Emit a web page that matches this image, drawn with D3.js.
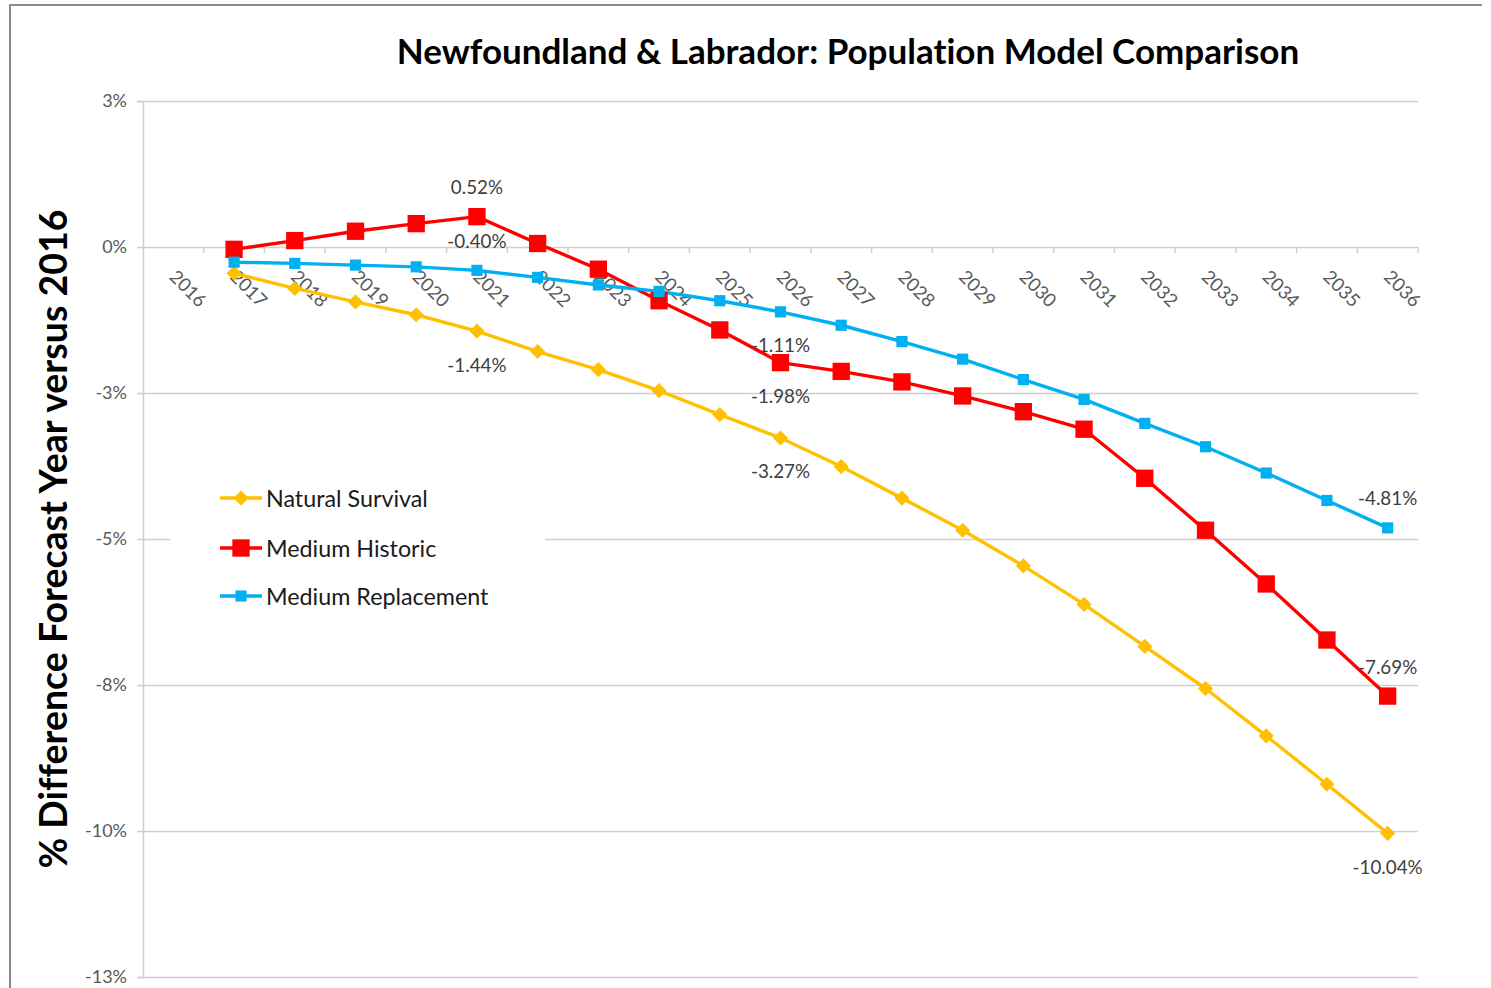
<!DOCTYPE html>
<html>
<head>
<meta charset="utf-8">
<script src="https://cdn.jsdelivr.net/npm/d3@7"></script>
<style>
  body { margin: 0; background: #fff; }
  svg text { font-family: Lato, "Open Sans", sans-serif; font-variant-ligatures: none; }
</style>
</head>
<body>
<div id="chart"></div>
<script>
// categories (2016 is the base year, it has no value)
var years = ["2016", "2017", "2018", "2019", "2020", "2021", "2022", "2023", "2024", "2025", "2026",
             "2027", "2028", "2029", "2030", "2031", "2032", "2033", "2034", "2035", "2036"];

// % difference of forecast year versus 2016
var naturalSurvival = [null, -0.45, -0.71, -0.94, -1.16, -1.44, -1.79, -2.10, -2.46, -2.87, -3.27,
                       -3.76, -4.30, -4.85, -5.46, -6.12, -6.84, -7.56, -8.37, -9.20, -10.04];
var mediumHistoric = [null, -0.04, 0.11, 0.27, 0.40, 0.52, 0.06, -0.38, -0.92, -1.42, -1.98,
                      -2.13, -2.31, -2.55, -2.82, -3.12, -3.96, -4.85, -5.77, -6.73, -7.69];
var mediumReplacement = [null, -0.26, -0.28, -0.31, -0.34, -0.40, -0.52, -0.65, -0.76, -0.92, -1.11,
                         -1.34, -1.62, -1.92, -2.27, -2.61, -3.02, -3.42, -3.87, -4.34, -4.81];

var yTicks = [2.5, 0, -2.5, -5, -7.5, -10, -12.5];

// which points carry a data label
var labelYears = ["2021", "2026", "2036"];

var series = [
    { name: "Natural Survival", values: naturalSurvival, color: "#FFC000", marker: "diamond", labelPos: ["below", "below", "below"] },
    { name: "Medium Historic", values: mediumHistoric, color: "#FF0000", marker: "bigsquare", labelPos: ["above", "below", "above"] },
    { name: "Medium Replacement", values: mediumReplacement, color: "#00B0F0", marker: "square", labelPos: ["above", "below", "above"] }
];

var margin = { top: 101, right: 73, bottom: 11, left: 143 },
    width = 1491 - margin.left - margin.right,
    height = 988 - margin.top - margin.bottom;

var root = d3.select("#chart")
    .append("svg")
    .attr("width", 1491)
    .attr("height", 988);

// outer chart border (only top and left show in the picture)
root.append("path")
    .attr("d", "M10,988 L10,5 L1482,5")
    .attr("fill", "none")
    .attr("stroke", "#8c8c8c")
    .attr("stroke-width", 2);

var svg = root.append("g")
    .attr("transform", "translate(" + margin.left + "," + margin.top + ")");

var x = d3.scaleBand()
    .domain(years)
    .range([0, width]);

var y = d3.scaleLinear()
    .domain([-12.5, 2.5])
    .range([height, 0]);

// excel style rounding of the axis labels (2.5 -> 3, -7.5 -> -8)
var pctLabel = function(v) {
    var r = Math.round(Math.abs(v));
    return (v < 0 && r != 0 ? "-" : "") + r + "%";
};
// plain hyphen, not the unicode minus d3.format gives
var dataLabel = function(v) {
    return (v < 0 ? "-" : "") + Math.abs(v).toFixed(2) + "%";
};

var cx = function(i) { return x(years[i]) + x.bandwidth() / 2; };

// gridlines
var grid = svg.append("g")
    .call(d3.axisLeft(y).tickValues(yTicks).tickSize(-width).tickFormat(""));
grid.select(".domain").remove();
grid.selectAll("line").attr("stroke", "#cfcfcf").attr("stroke-width", 1.5);

// y axis
var yaxis = svg.append("g")
    .call(d3.axisLeft(y).tickValues(yTicks).tickSize(6).tickPadding(10).tickFormat(pctLabel));
yaxis.select(".domain").attr("stroke", "#cfcfcf").attr("stroke-width", 1.5);
yaxis.selectAll("line").attr("stroke", "#cfcfcf").attr("stroke-width", 1.5);
yaxis.selectAll("text")
    .attr("font-size", 18)
    .attr("fill", "#595959");

// x axis sits on 0%, ticks between the categories
var y0 = y(0);
svg.append("g")
    .selectAll("line")
    .data(years.slice(1).concat(["end"]))
    .enter()
    .append("line")
    .attr("x1", function(d) { return d == "end" ? width : x(d); })
    .attr("x2", function(d) { return d == "end" ? width : x(d); })
    .attr("y1", y0)
    .attr("y2", y0 + 6)
    .attr("stroke", "#cfcfcf")
    .attr("stroke-width", 1.5);

svg.append("g")
    .selectAll("text")
    .data(years)
    .enter()
    .append("text")
    .attr("transform", function(d, i) {
        return "translate(" + (cx(i) - 5) + "," + (y0 + 31) + ") rotate(45)";
    })
    .attr("text-anchor", "start")
    .attr("font-size", 18.5)
    .attr("fill", "#595959")
    .text(function(d) { return d; });

// markers
var markerPath = function(kind) {
    if (kind == "diamond") return d3.symbol(d3.symbolSquare, 115)();
    if (kind == "bigsquare") return d3.symbol(d3.symbolSquare, 300)();
    return d3.symbol(d3.symbolSquare, 125)();
};

var line = d3.line()
    .defined(function(d) { return d != null; })
    .x(function(d, i) { return cx(i); })
    .y(function(d) { return y(d); });

series.forEach(function(s) {
    svg.append("path")
        .datum(s.values)
        .attr("fill", "none")
        .attr("stroke", s.color)
        .attr("stroke-width", 3.4)
        .attr("stroke-linejoin", "round")
        .attr("d", line);
});

series.forEach(function(s) {
    svg.append("g")
        .selectAll("path")
        .data(s.values.map(function(v, i) { return { v: v, i: i }; }).filter(function(d) { return d.v != null; }))
        .enter()
        .append("path")
        .attr("d", markerPath(s.marker))
        .attr("fill", s.color)
        .attr("transform", function(d) {
            return "translate(" + cx(d.i) + "," + y(d.v) + ")" + (s.marker == "diamond" ? " rotate(45)" : "");
        });
});

// data labels
series.forEach(function(s) {
    labelYears.forEach(function(yr, k) {
        var i = years.indexOf(yr);
        var v = s.values[i];
        svg.append("text")
            .attr("x", cx(i))
            .attr("y", y(v) + (s.labelPos[k] == "above" ? -30 : 33))
            .attr("text-anchor", "middle")
            .attr("dominant-baseline", "central")
            .attr("font-size", 18.8)
            .attr("fill", "#404040")
            .text(dataLabel(v));
    });
});

// legend, white box over the gridline
var legend = root.append("g");
legend.append("rect")
    .attr("x", 170)
    .attr("y", 472)
    .attr("width", 375)
    .attr("height", 150)
    .attr("fill", "#fff");

var legendRows = legend.selectAll("g.item")
    .data(series)
    .enter()
    .append("g")
    .attr("class", "item")
    .attr("transform", function(d, i) { return "translate(220," + [498, 548, 596][i] + ")"; });

legendRows.append("line")
    .attr("x1", 0)
    .attr("x2", 42)
    .attr("stroke", function(d) { return d.color; })
    .attr("stroke-width", 3.4);

legendRows.append("path")
    .attr("d", function(d) { return markerPath(d.marker); })
    .attr("fill", function(d) { return d.color; })
    .attr("transform", function(d) { return "translate(21,0)" + (d.marker == "diamond" ? " rotate(45)" : ""); });

legendRows.append("text")
    .attr("x", 46)
    .attr("dominant-baseline", "central")
    .attr("font-size", 23.3)
    .attr("fill", "#1a1a1a")
    .text(function(d) { return d.name; });

// title
root.append("text")
    .attr("x", 848)
    .attr("y", 64)
    .attr("text-anchor", "middle")
    .attr("font-size", 35)
    .attr("font-weight", "bold")
    .attr("fill", "#000")
    .text("Newfoundland & Labrador: Population Model Comparison");

// y axis title
root.append("text")
    .attr("transform", "translate(67,539) rotate(-90)")
    .attr("text-anchor", "middle")
    .attr("font-size", 37.5)
    .attr("font-weight", "bold")
    .attr("fill", "#000")
    .text("% Difference Forecast Year versus 2016");
</script>
</body>
</html>
